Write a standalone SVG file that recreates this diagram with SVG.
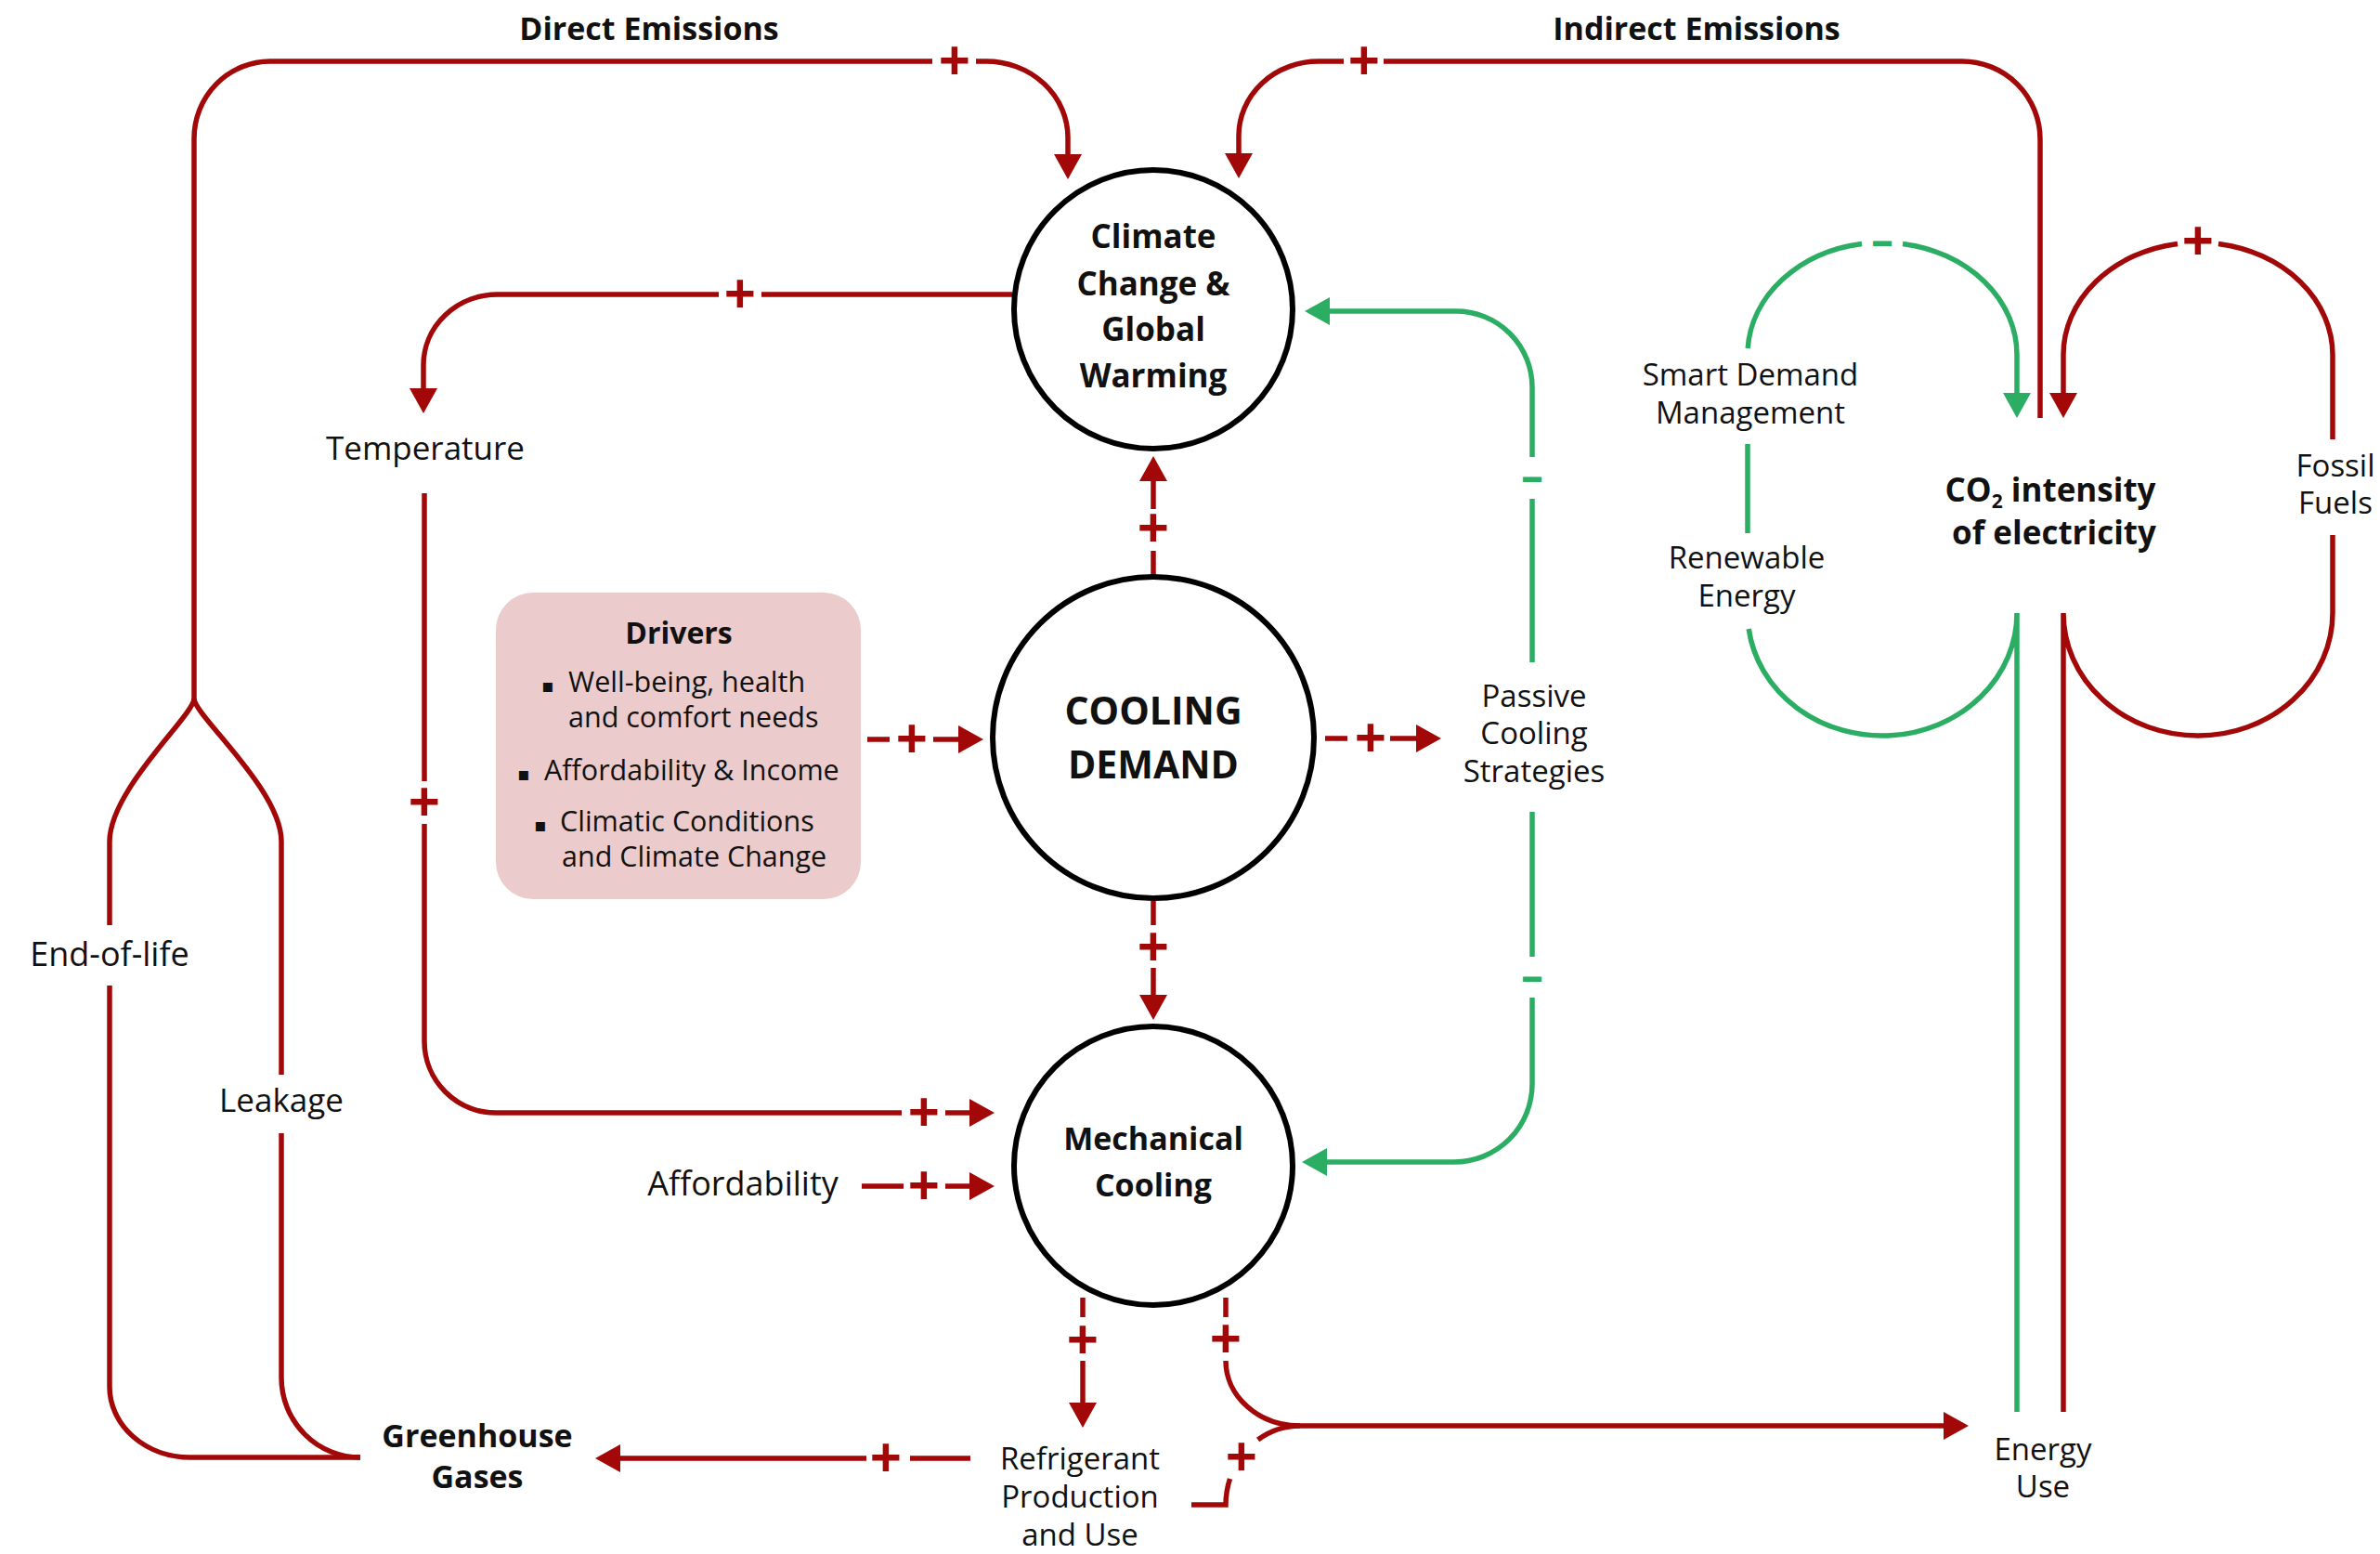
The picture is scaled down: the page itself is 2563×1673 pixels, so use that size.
<svg xmlns="http://www.w3.org/2000/svg" width="2563" height="1673" viewBox="0 0 2563 1673">
  <style>
    .r { fill: none; stroke: #A20808; stroke-width: 5.5; }
    .g { fill: none; stroke: #2BAE63; stroke-width: 5.5; }
    .node { fill: #fff; stroke: #000; stroke-width: 6; }
    .t { font-family: "Open Sans", "Noto Sans", sans-serif; fill: #111; text-anchor: middle; }
    .b { font-weight: 700; }
    .s33 { font-size: 33px; }
    .s35 { font-size: 35px; }
    .pol { font-family: "Open Sans", "Noto Sans", sans-serif; font-weight: 700; text-anchor: middle; }
    .plus { fill: #A20808; font-size: 60px; }
    .minus { fill: #2BAE63; font-size: 48px; }
  </style>
  <defs>
    <marker id="arR" markerUnits="userSpaceOnUse" markerWidth="27" markerHeight="30" viewBox="0 0 27 30" refX="2" refY="15" orient="auto">
      <path d="M0,0 L27,15 L0,30 z" fill="#A20808"/>
    </marker>
    <marker id="arG" markerUnits="userSpaceOnUse" markerWidth="27" markerHeight="30" viewBox="0 0 27 30" refX="2" refY="15" orient="auto">
      <path d="M0,0 L27,15 L0,30 z" fill="#2BAE63"/>
    </marker>
  </defs>
  <rect width="2563" height="1673" fill="#fff"/>

  <!-- connectors -->
  <g id="connectors">
    <!-- direct emissions: greenhouse gases to climate change -->
    <path class="r" d="M209 752 V149 A82 83 0 0 1 291 66 H1004"/>
    <path class="r" d="M1051 66 H1062 A88 82 0 0 1 1150 148 V168" marker-end="url(#arR)"/>
    <!-- indirect emissions: CO2 intensity to climate change -->
    <path class="r" d="M2197 450 V150 A84 84 0 0 0 2113 66 H1490"/>
    <path class="r" d="M1447 66 H1420 A86 80 0 0 0 1334 146 V167" marker-end="url(#arR)"/>
    <!-- climate change to temperature -->
    <path class="r" d="M1090 317 H820"/>
    <path class="r" d="M774 317 H536 A80 76 0 0 0 456 393 V420" marker-end="url(#arR)"/>
    <!-- temperature to mechanical cooling -->
    <path class="r" d="M457 531 V841"/>
    <path class="r" d="M457 887 V1121 A77 77 0 0 0 534 1198 H971"/>
    <path class="r" d="M1018 1198 H1046" marker-end="url(#arR)"/>
    <!-- affordability to mechanical cooling -->
    <path class="r" d="M928 1277 H973"/>
    <path class="r" d="M1018 1277 H1046" marker-end="url(#arR)"/>
    <!-- drivers to cooling demand -->
    <path class="r" d="M934 796 H958"/>
    <path class="r" d="M1005 796 H1034" marker-end="url(#arR)"/>
    <!-- cooling demand to passive strategies -->
    <path class="r" d="M1427 795 H1451"/>
    <path class="r" d="M1497 795 H1527" marker-end="url(#arR)"/>
    <!-- cooling demand to climate change -->
    <path class="r" d="M1242 620 V593"/>
    <path class="r" d="M1242 548 V516" marker-end="url(#arR)"/>
    <!-- cooling demand to mechanical cooling -->
    <path class="r" d="M1242 970 V996"/>
    <path class="r" d="M1242 1042 V1073" marker-end="url(#arR)"/>
    <!-- mechanical cooling to refrigerant -->
    <path class="r" d="M1166 1397 V1418"/>
    <path class="r" d="M1166 1465 V1512" marker-end="url(#arR)"/>
    <!-- mechanical cooling to energy use -->
    <path class="r" d="M1320 1397 V1418"/>
    <path class="r" d="M1320 1465 A80 70 0 0 0 1400 1535 H2095" marker-end="url(#arR)"/>
    <!-- refrigerant to energy use -->
    <path class="r" d="M1283 1620 H1320 A80 85 0 0 1 1324.5 1592"/>
    <path class="r" d="M1354.6 1550 A80 85 0 0 1 1400 1535"/>
    <!-- refrigerant to greenhouse gases -->
    <path class="r" d="M1045 1570 H980"/>
    <path class="r" d="M933 1570 H666" marker-end="url(#arR)"/>
    <!-- greenhouse gases: end-of-life and leakage branches -->
    <path class="r" d="M209 752 C209 770 118 850 118 906 V996"/>
    <path class="r" d="M118 1061 V1493 A87 76 0 0 0 205 1569 H388"/>
    <path class="r" d="M209 752 C209 770 303 850 303 906 V1157"/>
    <path class="r" d="M303 1220 V1483 A85 86 0 0 0 388 1569"/>
    <!-- passive strategies to climate change and mechanical cooling -->
    <path class="g" d="M1650 713 V537"/>
    <path class="g" d="M1650 492 V417 A82 82 0 0 0 1568 335 H1430" marker-end="url(#arG)"/>
    <path class="g" d="M1650 874 V1030"/>
    <path class="g" d="M1650 1074 V1167 A84 84 0 0 1 1566 1251 H1427" marker-end="url(#arG)"/>
    <!-- energy use: renewables and smart demand loop -->
    <path class="g" d="M2172 1520 V660 A145 132 0 0 1 1883.2 677"/>
    <path class="g" d="M1882 574 V478"/>
    <path class="g" d="M1882.2 375 A145 121 0 0 1 2005 262.4"/>
    <path class="g" d="M2049 262.4 A145 121 0 0 1 2172 382 V425" marker-end="url(#arG)"/>
    <!-- energy use: fossil fuel loop -->
    <path class="r" d="M2222 1520 V660 A145 132 0 0 0 2512 660 V576"/>
    <path class="r" d="M2512 473 V382 A145 121 0 0 0 2389 262.4"/>
    <path class="r" d="M2345 262.4 A145 121 0 0 0 2222 382 V425" marker-end="url(#arR)"/>

    <!-- polarity signs -->
    <g class="pol plus">
      <text x="1028" y="87">+</text>
      <text x="1469" y="87">+</text>
      <text x="797" y="338">+</text>
      <text x="457" y="885">+</text>
      <text x="995" y="1219">+</text>
      <text x="995" y="1298">+</text>
      <text x="982" y="817">+</text>
      <text x="1476" y="816">+</text>
      <text x="1242" y="590">+</text>
      <text x="1242" y="1041">+</text>
      <text x="1166" y="1464">+</text>
      <text x="1320" y="1463">+</text>
      <text x="1337" y="1590">+</text>
      <text x="954" y="1591">+</text>
      <text x="2367" y="281">+</text>
    </g>
    <g class="pol minus">
      <text x="1650" y="529">–</text>
      <text x="1650" y="1067">–</text>
      <text x="2027" y="275">–</text>
    </g>

    <text class="t b" x="699" y="43" style="font-size:34px">Direct Emissions</text>
    <text class="t b" x="1827" y="43" style="font-size:34px">Indirect Emissions</text>
  </g>

  <!-- nodes -->
  <g id="n-climate">
    <circle class="node" cx="1242" cy="333" r="150"/>
    <text class="t b s35" x="1242" y="267">Climate</text>
    <text class="t b s35" x="1242" y="318">Change &amp;</text>
    <text class="t b s35" x="1242" y="367">Global</text>
    <text class="t b s35" x="1242" y="417">Warming</text>
  </g>
  <g id="n-cooling-demand">
    <circle class="node" cx="1242" cy="794" r="173"/>
    <text class="t b" x="1242" y="780" style="font-size:41px">COOLING</text>
    <text class="t b" x="1242" y="838" style="font-size:41px">DEMAND</text>
  </g>
  <g id="n-mechanical">
    <circle class="node" cx="1242" cy="1255" r="150"/>
    <text class="t b" x="1242" y="1238" style="font-size:34px">Mechanical</text>
    <text class="t b" x="1242" y="1288" style="font-size:34px">Cooling</text>
  </g>
  <g id="n-drivers">
    <rect x="534" y="638" width="393" height="330" rx="40" fill="#EBCBCB"/>
    <text class="t b" x="731" y="693" style="font-size:32px">Drivers</text>
    <g style="font-family:'Open Sans','Noto Sans',sans-serif;font-size:30.5px;fill:#111">
      <text x="583" y="745"><tspan style="font-family:'DejaVu Sans',sans-serif;font-size:20px">▪</tspan><tspan x="612">Well-being, health</tspan></text>
      <text x="612" y="783">and comfort needs</text>
      <text x="557" y="840"><tspan style="font-family:'DejaVu Sans',sans-serif;font-size:20px">▪</tspan><tspan x="586">Affordability &amp; Income</tspan></text>
      <text x="575" y="895"><tspan style="font-family:'DejaVu Sans',sans-serif;font-size:20px">▪</tspan><tspan x="603">Climatic Conditions</tspan></text>
      <text x="605" y="933">and Climate Change</text>
    </g>
  </g>
  <g id="n-temperature">
    <text class="t" x="458" y="495" style="font-size:35px">Temperature</text>
  </g>
  <g id="n-passive">
    <text class="t s33" x="1652" y="761">Passive</text>
    <text class="t s33" x="1652" y="801">Cooling</text>
    <text class="t s33" x="1652" y="842">Strategies</text>
  </g>
  <g id="n-affordability">
    <text class="t" x="800" y="1287" style="font-size:36px">Affordability</text>
  </g>
  <g id="n-end-of-life">
    <text class="t" x="118" y="1040" style="font-size:36px">End-of-life</text>
  </g>
  <g id="n-leakage">
    <text class="t" x="303" y="1197" style="font-size:35px">Leakage</text>
  </g>
  <g id="n-ghg">
    <text class="t b" x="514" y="1558" style="font-size:34px">Greenhouse</text>
    <text class="t b" x="514" y="1602" style="font-size:34px">Gases</text>
  </g>
  <g id="n-refrigerant">
    <text class="t s33" x="1163" y="1582">Refrigerant</text>
    <text class="t s33" x="1163" y="1623">Production</text>
    <text class="t s33" x="1163" y="1664">and Use</text>
  </g>
  <g id="n-energy-use">
    <text class="t s33" x="2200" y="1572">Energy</text>
    <text class="t s33" x="2200" y="1612">Use</text>
  </g>
  <g id="n-smart-demand">
    <text class="t s33" x="1885" y="415">Smart Demand</text>
    <text class="t s33" x="1885" y="456">Management</text>
  </g>
  <g id="n-renewable">
    <text class="t s33" x="1881" y="612">Renewable</text>
    <text class="t s33" x="1881" y="653">Energy</text>
  </g>
  <g id="n-co2">
    <text class="t b s35" x="2208" y="540">CO<tspan style="font-size:21px" dy="7">2</tspan><tspan dy="-7"> intensity</tspan></text>
    <text class="t b s35" x="2212" y="586">of electricity</text>
  </g>
  <g id="n-fossil">
    <text class="t s33" x="2515" y="513">Fossil</text>
    <text class="t s33" x="2515" y="553">Fuels</text>
  </g>
</svg>
